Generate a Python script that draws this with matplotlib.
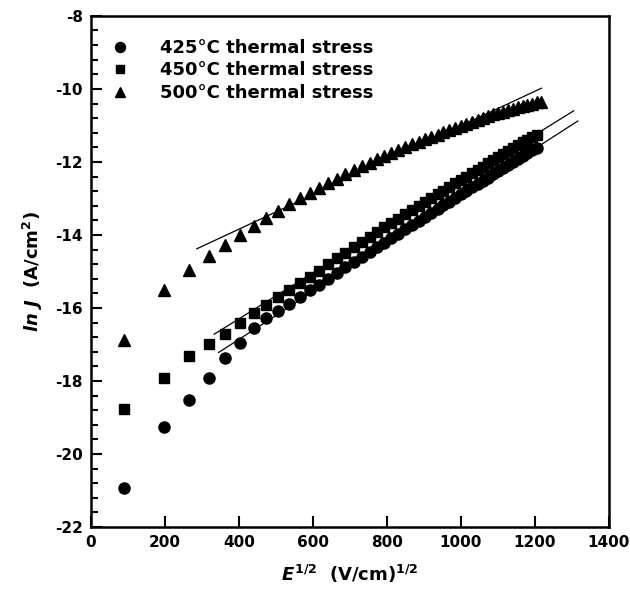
import matplotlib
matplotlib.use('Agg')
import matplotlib.pyplot as plt
from matplotlib.ticker import MultipleLocator

plt.rcParams['font.family'] = 'DejaVu Sans'
plt.rcParams['font.weight'] = 'bold'
plt.rcParams['axes.unicode_minus'] = False
plt.rcParams['mathtext.fontset'] = 'custom'
plt.rcParams['mathtext.rm'] = 'DejaVu Sans:bold'
plt.rcParams['mathtext.it'] = 'DejaVu Sans:italic:bold'
plt.rcParams['mathtext.bf'] = 'DejaVu Sans:bold'

# E^1/2 grid (V/cm)^1/2
e_half = [88, 198, 264, 318, 363, 404, 440, 474, 506, 536, 564, 591, 616, 641,
          665, 688, 710, 732, 753, 773, 793, 812, 831, 850, 868, 886, 903, 920,
          937, 953, 969, 985, 1000, 1015, 1030, 1045, 1059, 1073, 1087, 1101,
          1115, 1128, 1141, 1154, 1167, 1180, 1193, 1205]
e_half_500 = e_half + [1217]

# ln J (A/cm^2)
lnj_425 = [-20.92, -19.27, -18.52, -17.92, -17.37, -16.97, -16.55, -16.28, -16.08,
           -15.89, -15.70, -15.52, -15.36, -15.20, -15.04, -14.89, -14.75, -14.61,
           -14.47, -14.34, -14.21, -14.09, -13.97, -13.85, -13.73, -13.62, -13.51,
           -13.40, -13.29, -13.19, -13.09, -12.98, -12.89, -12.80, -12.70, -12.61,
           -12.52, -12.43, -12.34, -12.25, -12.16, -12.08, -12.00, -11.92, -11.84,
           -11.76, -11.68, -11.61]
lnj_450 = [-18.78, -17.93, -17.32, -16.98, -16.70, -16.40, -16.14, -15.92, -15.71,
           -15.51, -15.33, -15.15, -14.98, -14.80, -14.64, -14.49, -14.34, -14.19,
           -14.05, -13.92, -13.79, -13.67, -13.55, -13.43, -13.32, -13.21, -13.10,
           -12.99, -12.89, -12.79, -12.69, -12.59, -12.50, -12.41, -12.31, -12.22,
           -12.13, -12.04, -11.96, -11.87, -11.78, -11.70, -11.62, -11.54, -11.46,
           -11.39, -11.32, -11.26]
lnj_500 = [-16.88, -15.52, -14.96, -14.58, -14.27, -14.00, -13.76, -13.54, -13.34,
           -13.16, -13.00, -12.85, -12.72, -12.58, -12.46, -12.34, -12.23, -12.12,
           -12.02, -11.93, -11.84, -11.75, -11.67, -11.59, -11.52, -11.45, -11.38,
           -11.31, -11.25, -11.18, -11.12, -11.06, -11.01, -10.95, -10.90, -10.85,
           -10.80, -10.75, -10.70, -10.66, -10.62, -10.58, -10.54, -10.50, -10.47,
           -10.43, -10.40, -10.37, -10.35]

# straight line fits (end points)
fit_425_x = [345, 1316]
fit_425_y = [-17.22, -10.88]
fit_450_x = [333, 1305]
fit_450_y = [-16.72, -10.60]
fit_500_x = [286, 1218]
fit_500_y = [-14.38, -9.98]

fig = plt.figure(figsize=(6.3, 6.02), dpi=100)
ax = fig.add_axes([0.1444, 0.1246, 0.822, 0.849])

ax.plot(e_half, lnj_425, 'o', color='black', ms=8, label='425°C thermal stress')
ax.plot(e_half, lnj_450, 's', color='black', ms=7, label='450°C thermal stress')
ax.plot(e_half_500, lnj_500, '^', color='black', ms=8, label='500°C thermal stress')
ax.plot(fit_425_x, fit_425_y, color='black', lw=0.9)
ax.plot(fit_450_x, fit_450_y, color='black', lw=0.9)
ax.plot(fit_500_x, fit_500_y, color='black', lw=0.9)

ax.set_xlim(0, 1400)
ax.set_ylim(-22, -8)
ax.xaxis.set_major_locator(MultipleLocator(200))
ax.yaxis.set_major_locator(MultipleLocator(2))
ax.yaxis.set_minor_locator(MultipleLocator(0.4))
ax.tick_params(axis='both', which='major', direction='in', length=8, width=1.5,
               labelsize=11, pad=6)
ax.tick_params(axis='y', which='minor', direction='in', length=5, width=1.5)
for s in ax.spines.values():
    s.set_linewidth(1.8)

ax.set_xlabel(r'$E^{1/2}$  (V/cm)$^{1/2}$', fontsize=13, fontweight='bold', labelpad=9)
ax.set_ylabel(r'$ln\ J$  (A/cm$^{2}$)', fontsize=13, fontweight='bold', labelpad=7)

ax.legend(loc='upper left', frameon=False, prop={'size': 13, 'weight': 'bold'},
          handletextpad=1.2, handlelength=2.0, labelspacing=0.25, markerscale=0.9,
          borderaxespad=0, borderpad=0, bbox_to_anchor=(0.021, 0.955))

fig.savefig('out.png', dpi=100)
